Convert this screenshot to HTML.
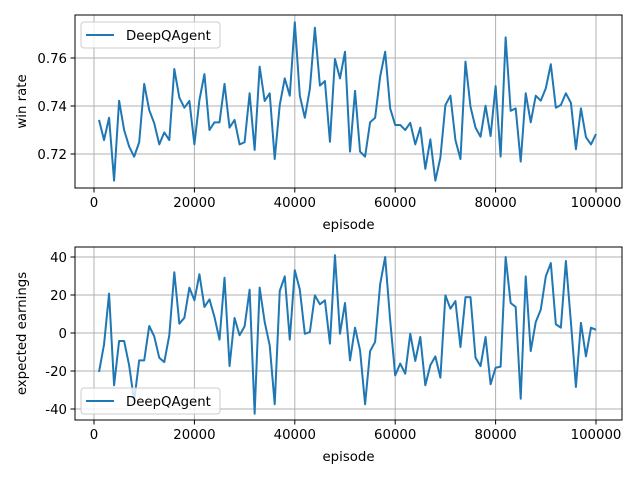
<!DOCTYPE html>
<html><head><meta charset="utf-8"><style>
body{margin:0;background:#fff}
svg{display:block;font-family:"DejaVu Sans","Liberation Sans",sans-serif}
</style></head><body>
<svg id="chart" width="640" height="480" xmlns="http://www.w3.org/2000/svg">
<rect width="640" height="480" fill="#fff"/>
</svg>
<script>
const episodes = Array.from({length:100},(_,i)=>(i+1)*1000);
const winRate = [.7342,.7258,.7351,.7089,.7422,.730,.7231,.7189,.7249,.7492,.7383,.7328,.724,.729,.7258,.7554,.7435,.7393,.7421,.724,
.7425,.7533,.730,.7332,.7332,.7492,.731,.7342,.724,.7249,.7453,.7217,.7564,.7421,.7453,.7179,.7404,.7515,.7443,.7749,
.7443,.7351,.7471,.7726,.7485,.7504,.7251,.7596,.7515,.7626,.721,.7463,.721,.7189,.7332,.7351,.7522,.7626,.739,.7321,
.7321,.730,.733,.724,.731,.7138,.7261,.7089,.7185,.7404,.7443,.7258,.7179,.7585,.7397,.731,.7272,.7401,.7275,.7483,
.7189,.7686,.738,.739,.7168,.7453,.7332,.7443,.7422,.7474,.7574,.7393,.7404,.7453,.7413,.722,.739,.727,.724,.7283];
const earnings = [-20.5,-6,20.7,-27.5,-4.2,-4.2,-17,-35.8,-14.4,-14.4,3.7,-1.8,-13,-15.3,-1.2,32,4.9,8,23.9,17.2,
30.9,13.7,17.7,8.4,-3.5,29.1,-17.4,7.9,-1.2,3.5,22.8,-42.5,23.9,5.8,-6.5,-37.5,22.1,29.8,-3.5,33,
22.8,-0.4,0.5,19.8,15.1,17.2,-5.6,40.9,-0.4,15.8,-14.4,2.8,-9.1,-37.5,-9.5,-4.7,25.6,40,6.7,-22.3,
-16.1,-21.4,-0.4,-14.7,-2.1,-27.5,-17,-12.3,-23.5,19.8,12.8,16.8,-7.4,18.9,18.9,-13,-17.4,-2.1,-27,-18.3,
-17.7,40,15.8,13.7,-34.6,29.8,-9.5,5.8,12.3,29.8,36.8,4.6,2.8,37.9,5.8,-28.4,5.3,-12.3,2.8,1.7];
const xTicks = [0,20000,40000,60000,80000,100000];
const topYTicks = [0.72,0.74,0.76];
const botYTicks = [-40,-20,0,20,40];

const NS="http://www.w3.org/2000/svg";
const svg=document.getElementById('chart');
function mk(tag,attrs,parent){const e=document.createElementNS(NS,tag);for(const k in attrs)e.setAttribute(k,attrs[k]);(parent||svg).appendChild(e);return e;}
const xS=v=>94+(v/100000)*502;

function panel(top,bottom,yS,yTicks,fmt,vals,ylabel,legendY,prefix){
  const g=mk('g',{});
  
  
  xTicks.forEach(t=>{
    const x=xS(t);
    const gl=mk('line',{x1:x,x2:x,y1:top,y2:bottom,stroke:'#b0b0b0','stroke-width':1},g);
    
    
    mk('line',{x1:x,x2:x,y1:bottom,y2:bottom+4.5,stroke:'#000','stroke-width':1},g);
    const tl=mk('text',{x:x,y:bottom+19,'font-size':'13.3','text-anchor':'middle',fill:'#000'},g);
    tl.textContent=String(t);
    
    
  });
  yTicks.forEach(t=>{
    const y=yS(t);
    const gl=mk('line',{x1:75,x2:622,y1:y,y2:y,stroke:'#b0b0b0','stroke-width':1},g);
    
    
    mk('line',{x1:70.5,x2:75,y1:y,y2:y,stroke:'#000','stroke-width':1},g);
    const tl=mk('text',{x:67,y:y+5,'font-size':'13.3','text-anchor':'end',fill:'#000'},g);
    tl.textContent=fmt(t);
    
    
  });
  const pts=episodes.map((e,i)=>xS(e).toFixed(2)+','+yS(vals[i]).toFixed(2)).join(' ');
  const line=mk('polyline',{points:pts,fill:'none',stroke:'#1f77b4','stroke-width':2,'stroke-linejoin':'round'},g);
  
  
  const fr=mk('rect',{x:75,y:top,width:547,height:bottom-top,fill:'none',stroke:'#000','stroke-width':1},g);
  
  
  const xl=mk('text',{x:348.5,y:bottom+41,'font-size':'13.3','text-anchor':'middle'},g);
  xl.textContent='episode';
  
  
  const cy=(top+bottom)/2;
  const yl=mk('text',{x:0,y:0,'font-size':'13.3','text-anchor':'middle',transform:`translate(26,${cy}) rotate(-90)`},g);
  yl.textContent=ylabel;
  
  
  const lg=mk('g',{},g);
  
  
  mk('rect',{x:81,y:legendY,width:139,height:26,rx:3,fill:'#fff','fill-opacity':0.8,stroke:'#ccc','stroke-width':1},lg);
  mk('line',{x1:86,x2:114,y1:legendY+13,y2:legendY+13,stroke:'#1f77b4','stroke-width':2},lg);
  const lt=mk('text',{x:126,y:legendY+18,'font-size':'13.3'},lg);
  lt.textContent='DeepQAgent';
  
  
}
panel(15,188,v=>154-(v-0.72)*2400,topYTicks,t=>t.toFixed(2),winRate,'win rate',22,'top');
panel(247,420,v=>333-v*1.9,botYTicks,t=>String(t),earnings,'expected earnings',388,'bottom');
</script>
</body></html>
